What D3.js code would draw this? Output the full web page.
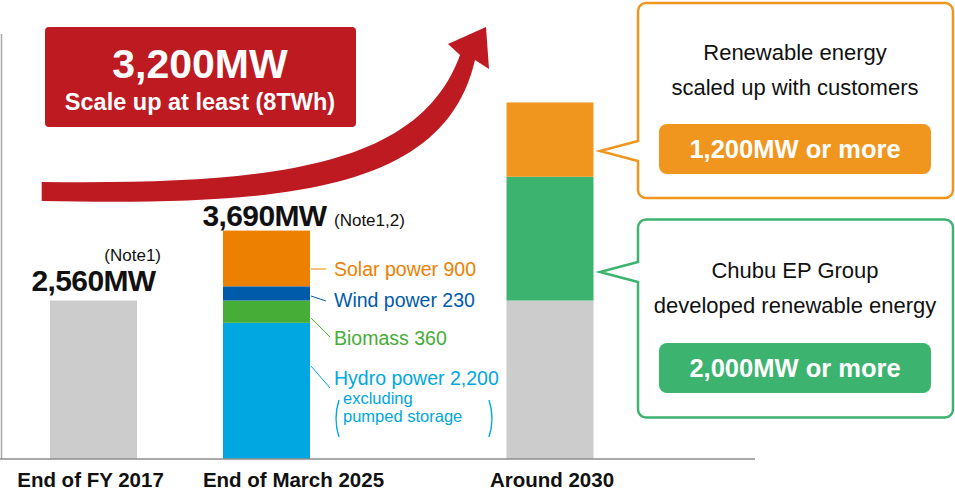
<!DOCTYPE html>
<html>
<head>
<meta charset="utf-8">
<script src="https://cdn.jsdelivr.net/npm/d3@7"></script>
<style>
  html, body { margin: 0; padding: 0; background: #fff; }
  svg { display: block; font-family: "Liberation Sans", Arial, Helvetica, sans-serif; }
</style>
</head>
<body>
<svg id="chart" width="955" height="492"></svg>
<script>
// ---------- data ----------
const categories = ["End of FY 2017", "End of March 2025", "Around 2030"];
const seriesKeys = ["existing", "hydro", "biomass", "wind", "solar", "developed", "customers"];
const existing  = [2560, 0, 2560];
const hydro     = [0, 2200, 0];
const biomass   = [0, 360, 0];
const wind      = [0, 230, 0];
const solar     = [0, 900, 0];
const developed = [0, 0, 2000];
const customers = [0, 0, 1200];
const totalLabels = ["2,560MW", "3,690MW", ""];
const noteLabels  = ["(Note1)", "(Note1,2)", ""];
const segmentNames = ["Solar power", "Wind power", "Biomass", "Hydro power"];
const segmentValues = [900, 230, 360, 2200];
const calloutTitles = [["Renewable energy", "scaled up with customers"], ["Chubu EP Group", "developed renewable energy"]];
const calloutValues = [1200, 2000];
const yMax = 7000;

// ---------- setup ----------
const svg = d3.select("#chart");
const fmt = d3.format(",");
const colors = {
  existing: "#cccccc", hydro: "#00a7e1", biomass: "#46ad36", wind: "#005bab",
  solar: "#ee8000", developed: "#3db370", customers: "#f0961e"
};
const RED = "#be1a22";

const table = categories.map((c, i) => ({
  cat: c, existing: existing[i], hydro: hydro[i], biomass: biomass[i], wind: wind[i],
  solar: solar[i], developed: developed[i], customers: customers[i]
}));
const stacked = d3.stack().keys(seriesKeys)(table);

const baseY = 459;
const y = d3.scaleLinear().domain([0, yMax]).range([baseY, baseY - 433.3]);
const x = d3.scaleOrdinal().domain(categories).range([50, 223, 506.5]);
const barW = 87;

// axes lines
svg.append("line").attr("x1", 1.5).attr("x2", 1.5).attr("y1", 34).attr("y2", baseY)
  .attr("stroke", "#a8a8a8").attr("stroke-width", 1.5);

// bars
stacked.forEach(s => {
  svg.append("g").selectAll("rect").data(s.filter(d => d[1] > d[0])).join("rect")
    .attr("x", d => x(d.data.cat))
    .attr("width", barW)
    .attr("y", d => y(d[1]))
    .attr("height", d => y(d[0]) - y(d[1]))
    .attr("fill", colors[s.key]);
});

svg.append("line").attr("x1", 0).attr("x2", 755).attr("y1", baseY).attr("y2", baseY)
  .attr("stroke", "#8c8c8c").attr("stroke-width", 1.3);

// category labels
svg.append("g").selectAll("text").data(categories).join("text")
  .attr("x", d => x(d) + barW / 2 + (d === categories[1] ? 27 : (d === categories[0] ? -3 : 2)))
  .attr("y", 487)
  .attr("text-anchor", "middle")
  .attr("font-weight", "bold").attr("font-size", 20.5).attr("fill", "#111")
  .text(d => d);

// total labels
const totals = table.map(d => seriesKeys.reduce((a, k) => a + d[k], 0));
svg.append("text").attr("x", x(categories[0]) + barW / 2 + 0).attr("y", y(totals[0]) - 9.5)
  .attr("text-anchor", "middle").attr("font-weight", "bold").attr("font-size", 30)
  .attr("letter-spacing", -0.6).attr("fill", "#111").text(totalLabels[0]);
svg.append("text").attr("x", 161).attr("y", 261)
  .attr("text-anchor", "end").attr("font-size", 17).attr("fill", "#111").text(noteLabels[0]);
svg.append("text").attr("x", x(categories[1]) + barW / 2 - 2).attr("y", y(totals[1]) - 5)
  .attr("text-anchor", "middle").attr("font-weight", "bold").attr("font-size", 30)
  .attr("letter-spacing", -0.6).attr("fill", "#111").text(totalLabels[1]);
svg.append("text").attr("x", 334).attr("y", y(totals[1]) - 5)
  .attr("font-size", 17).attr("fill", "#111").text(noteLabels[1]);

// segment labels for bar 2
const segColors = [colors.solar, colors.wind, colors.biomass, colors.hydro];
const segBaselines = [276, 307, 345, 385];
const leaders = [[311, 269, 326, 269], [311, 296, 326, 301], [311, 318, 330, 337], [311, 366, 330, 388]];
segmentNames.forEach((n, i) => {
  svg.append("line").attr("x1", leaders[i][0]).attr("y1", leaders[i][1])
    .attr("x2", leaders[i][2]).attr("y2", leaders[i][3])
    .attr("stroke", segColors[i]).attr("stroke-width", 1);
  svg.append("text").attr("x", 334).attr("y", segBaselines[i])
    .attr("font-size", 19.5).attr("fill", segColors[i])
    .text(n + " " + fmt(segmentValues[i]));
});
svg.append("text").attr("x", 343).attr("y", 404).attr("font-size", 16.5).attr("fill", colors.hydro).text("excluding");
svg.append("text").attr("x", 343).attr("y", 422).attr("font-size", 16.5).attr("fill", colors.hydro).text("pumped storage");
svg.append("path").attr("d", "M339,400 Q333,418.5 339,437").attr("fill", "none").attr("stroke", colors.hydro).attr("stroke-width", 1.4);
svg.append("path").attr("d", "M489,400 Q495,418.5 489,437").attr("fill", "none").attr("stroke", colors.hydro).attr("stroke-width", 1.4);

// red arrow
svg.append("path")
  .attr("d", "M41.7,182 C280,185 420,165 460,55 L448,44 L486,27 L489,69 L475,60 C445,190 290,206 41.7,201 Z")
  .attr("fill", RED);

// red box
svg.append("rect").attr("x", 45).attr("y", 27).attr("width", 311).attr("height", 100).attr("rx", 4)
  .attr("fill", RED);
svg.append("text").attr("x", 200).attr("y", 78).attr("text-anchor", "middle")
  .attr("font-weight", "bold").attr("font-size", 41).attr("fill", "#fff")
  .text(fmt(d3.sum(customers) + d3.sum(developed)) + "MW");
svg.append("text").attr("x", 200).attr("y", 110).attr("text-anchor", "middle")
  .attr("font-weight", "bold").attr("font-size", 23.5).attr("fill", "#fff")
  .text("Scale up at least (8TWh)");

// callouts
function callout(top, bottom, tipY, j1, j2, color, titles, value, titleY, pillY) {
  const L = 638, R = 953, r = 8;
  const d = `M${L + r},${top} H${R - r} A${r},${r} 0 0 1 ${R},${top + r} V${bottom - r} A${r},${r} 0 0 1 ${R - r},${bottom} H${L + r} A${r},${r} 0 0 1 ${L},${bottom - r} V${j2} L600,${tipY} L${L},${j1} V${top + r} A${r},${r} 0 0 1 ${L + r},${top} Z`;
  svg.append("path").attr("d", d).attr("fill", "#fff").attr("stroke", color).attr("stroke-width", 2.5)
    .attr("stroke-linejoin", "miter");
  titles.forEach((t, i) => {
    svg.append("text").attr("x", 795).attr("y", titleY[i]).attr("text-anchor", "middle")
      .attr("font-size", 22).attr("fill", "#111").text(t);
  });
  svg.append("rect").attr("x", 659).attr("y", pillY).attr("width", 272).attr("height", 50).attr("rx", 8)
    .attr("fill", color);
  svg.append("text").attr("x", 795).attr("y", pillY + 34).attr("text-anchor", "middle")
    .attr("font-weight", "bold").attr("font-size", 25.5).attr("fill", "#fff")
    .text(fmt(value) + "MW or more");
}
callout(3, 198, 151, 141, 161, colors.customers, calloutTitles[0], calloutValues[0], [60, 95], 124);
callout(219.5, 417.5, 272, 262, 282, colors.developed, calloutTitles[1], calloutValues[1], [278, 313], 343);
</script>
</body>
</html>
